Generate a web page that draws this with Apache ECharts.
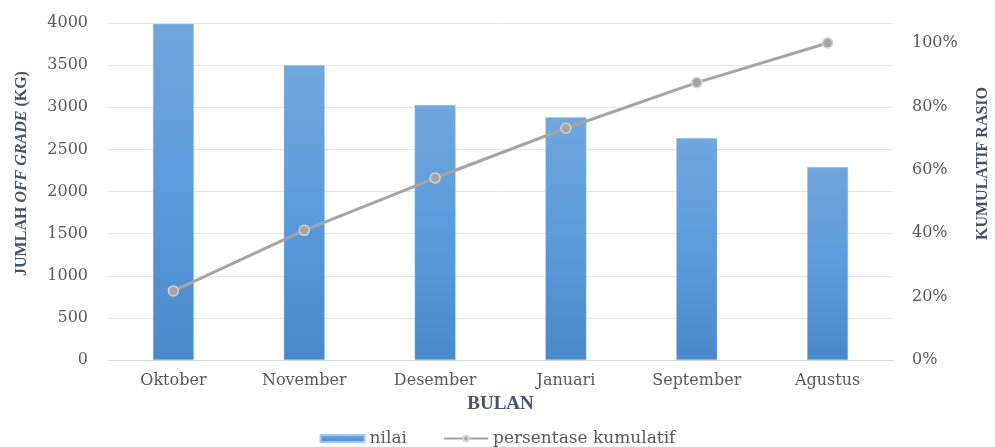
<!DOCTYPE html>
<html>
<head>
<meta charset="utf-8">
<script src="https://cdn.jsdelivr.net/npm/echarts@6/dist/echarts.min.js"></script>
<style>
  html, body { margin: 0; padding: 0; background: #fff; }
  #chart { width: 995px; height: 447px; }
</style>
</head>
<body>
<div id="chart"></div>
<script>
var bulan = ['Oktober', 'November', 'Desember', 'Januari', 'September', 'Agustus'];
var nilai = [3990, 3500, 3027, 2881, 2635, 2291];
var kumulatif = [0.218, 0.409, 0.574, 0.731, 0.875, 1.0];

var serif = '"DejaVu Serif", "Liberation Serif", serif';
var nameFont = '"Liberation Serif", serif';
var labelColor = '#595959';
var nameColor = '#44546a';

var chart = echarts.init(document.getElementById('chart'));
chart.setOption({
    animation: false,
    textStyle: {fontFamily: serif},
    grid: {left: 108, right: 102, top: 23, bottom: 87, outerBoundsMode: 'none', containLabel: false},
    legend: {
        top: 425,
        left: 'center',
        itemGap: 36,
        itemWidth: 44,
        itemHeight: 7,
        textStyle: {fontFamily: serif, fontSize: 17, color: labelColor},
        data: [
            {name: 'nilai', icon: 'rect'},
            {name: 'persentase kumulatif'}
        ]
    },
    xAxis: {
        type: 'category',
        data: bulan,
        name: 'BULAN',
        nameLocation: 'middle',
        nameGap: 35,
        nameTextStyle: {fontFamily: nameFont, fontSize: 19, fontWeight: 'bold', color: nameColor},
        axisLine: {lineStyle: {color: '#d9d9d9'}},
        axisTick: {show: false},
        axisLabel: {fontFamily: serif, fontSize: 16, color: labelColor, margin: 13}
    },
    yAxis: [{
        type: 'value',
        min: 0,
        max: 4000,
        interval: 500,
        name: 'JUMLAH {i|OFF GRADE} (KG)',
        nameLocation: 'middle',
        nameRotate: 90,
        nameGap: 78,
        nameTextStyle: {
            fontFamily: nameFont, fontSize: 16, fontWeight: 'bold', color: nameColor,
            padding: [0, 0, 0, 36],
            rich: {i: {fontFamily: nameFont, fontSize: 16, fontWeight: 'bold', fontStyle: 'italic', color: nameColor}}
        },
        axisLine: {show: false},
        axisTick: {show: false},
        axisLabel: {
            fontFamily: serif, fontSize: 16, color: labelColor, margin: 20,
            formatter: function(v) {
                return String(v);
            }
        },
        splitLine: {lineStyle: {color: '#e3e6ec', width: 1}}
    }, {
        type: 'value',
        min: 0,
        max: 1.063,
        interval: 0.2,
        name: 'KUMULATIF RASIO',
        nameLocation: 'middle',
        nameRotate: 90,
        nameGap: 82,
        nameTextStyle: {
            fontFamily: nameFont, fontSize: 16, fontWeight: 'bold', color: nameColor,
            padding: [0, 0, 0, 56]
        },
        axisLine: {show: false},
        axisTick: {show: false},
        splitLine: {show: false},
        axisLabel: {
            fontFamily: serif, fontSize: 16, color: labelColor, margin: 19,
            showMaxLabel: false,
            formatter: function(v) {
                return Math.round(v * 100) + '%';
            }
        }
    }],
    series: [{
        name: 'nilai',
        type: 'bar',
        barWidth: 41,
        data: nilai,
        itemStyle: {
            color: new echarts.graphic.LinearGradient(0, 0, 0, 1, [
                {offset: 0, color: '#70a7dc'},
                {offset: 0.5, color: '#5b9bdc'},
                {offset: 1, color: '#4a89c8'}
            ]),
            borderColor: '#a9c8e8',
            borderWidth: 0.5
        }
    }, {
        name: 'persentase kumulatif',
        type: 'line',
        yAxisIndex: 1,
        data: kumulatif,
        symbol: 'circle',
        symbolSize: 10,
        lineStyle: {color: '#a5a5a5', width: 3},
        itemStyle: {color: '#a5a5a5', borderColor: '#d4d4d4', borderWidth: 1.5}
    }]
});
</script>
</body>
</html>
